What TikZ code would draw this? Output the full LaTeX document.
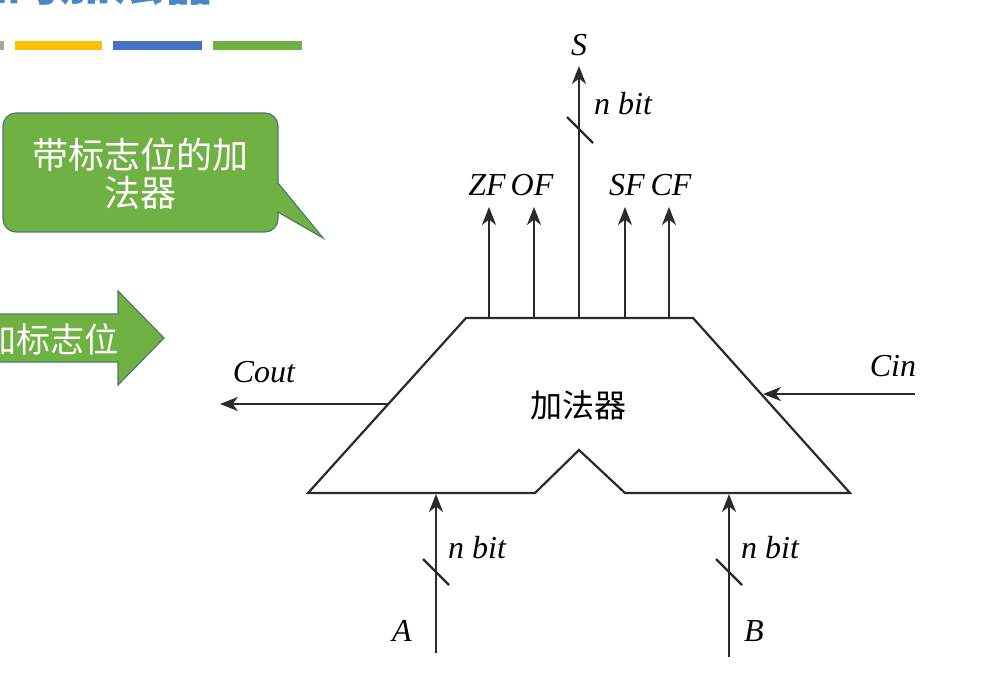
\documentclass[tikz,border=0pt]{standalone}
\usepackage{fontspec}
\setmainfont{Liberation Serif}
\newfontfamily\cjk{Noto Sans CJK SC}
\usetikzlibrary{arrows.meta,calc}
\definecolor{lnc}{HTML}{2A2A2A}
\definecolor{okgreen}{HTML}{6FB142}
\definecolor{okborder}{HTML}{4E7A6A}
\definecolor{okyellow}{HTML}{FFC000}
\definecolor{okblue}{HTML}{4472C4}
\definecolor{okgray}{HTML}{A6A6A6}
\definecolor{titleblue}{HTML}{4A86C5}
\tikzset{
  wire/.style={draw=lnc, line width=2.2pt},
  arr/.style={wire, -{Stealth[length=18pt,width=14pt,inset=5.5pt]}},
  lbl/.style={inner sep=0pt, font=\fontsize{32}{34}\selectfont\itshape},
  bar/.style={fill=#1, draw=none},
  greenshape/.style={fill=okgreen, draw=okborder, line width=1.2pt},
  slashmark/.style={wire}
}
\begin{document}
\begin{tikzpicture}[x=1pt,y=-1pt]
\useasboundingbox (0,0) rectangle (988,679);
\fill[white] (0,0) rectangle (988,679);

% title (cut at top)
\node[anchor=base east, inner sep=0pt, text=titleblue, font=\cjk\bfseries\fontsize{52}{56}\selectfont] (title) at (216,1) {带标志位的加法器};

% colour bars
\fill[bar=okgray] (-10,41) rectangle (4,50);
\fill[bar=okyellow] (15,41) rectangle (102,50);
\fill[bar=okblue] (113,41) rectangle (202,50);
\fill[bar=okgreen] (213,41) rectangle (302,50);

% callout
\path[greenshape] (278,183) [rounded corners=13pt] -- (278,113) -- (3,113) -- (3,232) -- (278,232) [sharp corners] -- (278,212) -- (323,238) -- cycle;
\node[align=center, text=white, inner sep=0pt, font=\cjk\fontsize{36}{38}\selectfont] (callout) at (140,174) {带标志位的加\\法器};

% block arrow
\path[greenshape] (-10,314) -- (118,314) -- (118,291) -- (164,338) -- (118,385) -- (118,362) -- (-10,362) -- cycle;
\node[anchor=east, text=white, inner sep=0pt, font=\cjk\fontsize{34}{36}\selectfont] (blk) at (119,339) {加标志位};

% adder body
\coordinate (TL) at (466,318);
\coordinate (TR) at (693,318);
\coordinate (BR) at (850,493);
\coordinate (NR) at (625,493);
\coordinate (AP) at (579,450);
\coordinate (NL) at (535,493);
\coordinate (BL) at (308,493);
\draw[wire, line join=miter] (TL) -- (TR) -- (BR) -- (NR) -- (AP) -- (NL) -- (BL) -- cycle;
\node[inner sep=0pt, font=\cjk\fontsize{32}{34}\selectfont] (adder) at (578,405) {加法器};

% top outputs
\coordinate (zf0) at (489,318);
\coordinate (of0) at (534,318);
\coordinate (s0) at (579,318);
\coordinate (sf0) at (625,318);
\coordinate (cf0) at (669,318);
\coordinate (zf1) at (489,207);
\coordinate (of1) at (534,207);
\coordinate (s1) at (579,66);
\coordinate (sf1) at (625,207);
\coordinate (cf1) at (669,207);
\draw[arr] (zf0) -- (zf1);
\draw[arr] (of0) -- (of1);
\draw[arr] (s0) -- (s1);
\draw[arr] (sf0) -- (sf1);
\draw[arr] (cf0) -- (cf1);
\node[lbl] (zf) at (487,185) {ZF};
\node[lbl] (of) at (532,185) {OF};
\node[lbl] (sf) at (627,185) {SF};
\node[lbl] (cf) at (671,185) {CF};
\node[lbl] (S) at (579,45) {S};
\node[lbl, anchor=west] (sbit) at (594,104) {n bit};
\coordinate (sslash) at (580,130);
\draw[slashmark] ($(sslash)+(-13,-13)$) -- ($(sslash)+(13,13)$);

% carry
\coordinate (cout0) at (388,404);
\coordinate (cout1) at (220,404);
\draw[arr] (cout0) -- (cout1);
\node[lbl] (cout) at (264,372) {Cout};
\coordinate (cin0) at (915,394);
\coordinate (cin1) at (763,394);
\draw[arr] (cin0) -- (cin1);
\node[lbl] (cin) at (893,366) {Cin};

% inputs
\coordinate (a0) at (436,653);
\coordinate (a1) at (436,494);
\coordinate (b0) at (729,657);
\coordinate (b1) at (729,494);
\draw[arr] (a0) -- (a1);
\draw[arr] (b0) -- (b1);
\coordinate (aslash) at (436,572);
\coordinate (bslash) at (729,572);
\draw[slashmark] ($(aslash)+(-13,-13)$) -- ($(aslash)+(13,13)$);
\draw[slashmark] ($(bslash)+(-13,-13)$) -- ($(bslash)+(13,13)$);
\node[lbl, anchor=west] (abit) at (448,548) {n bit};
\node[lbl, anchor=west] (bbit) at (741,548) {n bit};
\node[lbl] (A) at (402,631) {A};
\node[lbl] (B) at (754,631) {B};
\end{tikzpicture}
\end{document}
